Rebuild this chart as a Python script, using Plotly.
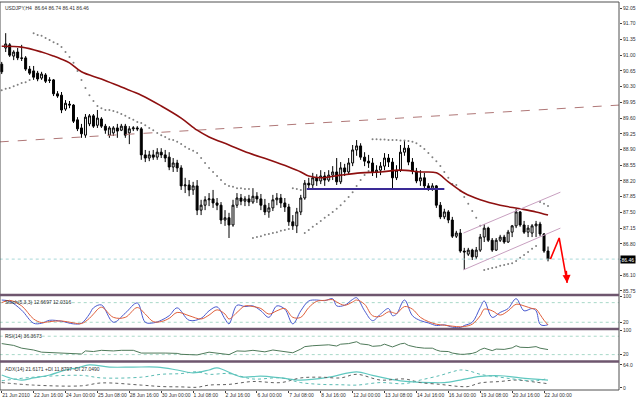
import plotly.graph_objects as go

# ---------------- data ----------------
bar_index = list(range(138))

opens = [90.80, 91.16, 91.23, 90.98, 91.07, 90.94, 90.94, 90.69, 90.65, 90.60,
         90.49, 90.56, 90.45, 90.45, 90.14, 90.11, 89.80, 89.91, 89.89, 89.56,
         89.38, 89.22, 89.47, 89.65, 89.44, 89.58, 89.42, 89.22, 89.27, 89.38,
         89.33, 89.42, 89.27, 89.36, 89.38, 89.36, 88.78, 88.71, 88.78, 88.73,
         88.84, 88.78, 88.73, 88.51, 88.60, 88.49, 88.09, 88.11, 88.00, 88.09,
         87.55, 87.66, 87.78, 87.80, 87.71, 87.66, 87.33, 87.38, 87.22, 87.66,
         87.82, 87.75, 87.80, 87.73, 87.86, 87.80, 87.66, 87.51, 87.60, 87.78,
         87.82, 87.71, 87.62, 87.29, 87.20, 87.51, 87.82, 88.15, 88.11, 88.27,
         88.20, 88.31, 88.22, 88.33, 88.40, 88.18, 88.49, 88.40, 88.60, 88.89,
         88.98, 88.73, 88.64, 88.60, 88.40, 88.44, 88.53, 88.71, 88.62, 88.27,
         88.44, 88.84, 88.93, 88.62, 88.42, 88.20, 88.27, 88.09, 88.02, 88.09,
         87.66, 87.40, 87.51, 87.33, 86.97, 87.04, 86.64, 86.57, 86.66, 86.51,
         86.66, 86.95, 87.15, 86.88, 86.66, 86.88, 86.95, 86.84, 87.06, 87.20,
         87.51, 87.22, 87.06, 87.04, 87.20, 87.24, 87.02, 86.64]
highs = [90.85, 91.49, 91.27, 91.11, 91.16, 91.23, 90.98, 90.76, 90.76, 90.65,
         90.63, 90.60, 90.51, 90.47, 90.20, 90.18, 90.00, 89.98, 89.91, 89.62,
         89.47, 89.69, 89.69, 89.69, 89.78, 89.62, 89.47, 89.42, 89.42, 89.47,
         89.47, 89.47, 89.42, 89.42, 89.42, 89.40, 88.89, 88.87, 88.89, 88.93,
         88.93, 88.89, 88.84, 88.71, 88.67, 88.55, 88.27, 88.22, 88.18, 88.22,
         87.78, 87.86, 87.93, 88.00, 87.82, 87.73, 87.55, 87.49, 87.78, 87.93,
         87.91, 87.86, 87.89, 88.04, 87.95, 87.91, 87.80, 87.71, 87.89, 87.93,
         87.91, 87.82, 87.69, 87.44, 87.60, 87.89, 88.22, 88.27, 88.38, 88.35,
         88.44, 88.40, 88.44, 88.53, 88.71, 88.62, 88.58, 88.71, 89.00, 89.11,
         89.04, 88.84, 88.78, 88.71, 88.55, 88.62, 88.82, 88.80, 88.71, 88.55,
         89.00, 89.09, 89.00, 88.71, 88.49, 88.44, 88.38, 88.15, 88.15, 88.11,
         87.73, 87.58, 87.55, 87.40, 87.09, 87.13, 86.71, 86.71, 86.69, 86.73,
         87.02, 87.24, 87.18, 86.93, 86.93, 87.00, 87.00, 87.11, 87.22, 87.58,
         87.53, 87.31, 87.22, 87.24, 87.31, 87.29, 87.04, 86.74]
lows = [90.58, 91.07, 90.96, 90.89, 90.89, 90.87, 90.65, 90.56, 90.45, 90.42,
        90.45, 90.38, 90.38, 90.09, 90.05, 89.71, 89.76, 89.82, 89.49, 89.31,
        89.16, 89.16, 89.42, 89.38, 89.38, 89.38, 89.25, 89.16, 89.20, 89.16,
        89.31, 89.16, 89.02, 89.31, 89.31, 88.67, 88.62, 88.64, 88.67, 88.67,
        88.71, 88.62, 88.44, 88.40, 88.40, 88.00, 87.93, 87.86, 87.89, 87.44,
        87.44, 87.55, 87.64, 87.60, 87.55, 87.24, 87.20, 86.93, 87.18, 87.60,
        87.66, 87.64, 87.64, 87.69, 87.71, 87.55, 87.44, 87.38, 87.53, 87.66,
        87.60, 87.51, 87.20, 87.11, 87.04, 87.44, 87.78, 88.00, 88.04, 88.09,
        88.13, 88.09, 88.18, 88.22, 88.11, 88.13, 88.31, 88.35, 88.53, 88.76,
        88.67, 88.53, 88.49, 88.31, 88.27, 88.33, 88.44, 88.51, 88.00, 88.22,
        88.40, 88.76, 88.55, 88.35, 88.15, 88.09, 88.04, 87.98, 87.98, 87.60,
        87.35, 87.35, 87.26, 86.93, 86.93, 86.60, 86.22, 86.53, 86.44, 86.46,
        86.62, 86.84, 86.84, 86.62, 86.64, 86.84, 86.80, 86.82, 86.95, 87.15,
        87.18, 87.02, 86.95, 86.95, 86.95, 86.97, 86.60, 86.41]
closes = [90.63, 91.25, 91.00, 91.07, 90.94, 90.93, 90.69, 90.60, 90.51, 90.47,
          90.58, 90.42, 90.44, 90.14, 90.09, 89.78, 89.93, 89.89, 89.53, 89.36,
          89.25, 89.62, 89.65, 89.42, 89.60, 89.42, 89.33, 89.38, 89.38, 89.31,
          89.42, 89.22, 89.36, 89.38, 89.36, 88.78, 88.71, 88.78, 88.73, 88.84,
          88.78, 88.71, 88.51, 88.60, 88.49, 88.09, 88.11, 88.00, 88.09, 87.55,
          87.66, 87.78, 87.80, 87.71, 87.66, 87.33, 87.38, 87.22, 87.66, 87.82,
          87.75, 87.80, 87.73, 87.86, 87.80, 87.66, 87.51, 87.60, 87.78, 87.82,
          87.71, 87.62, 87.29, 87.20, 87.51, 87.82, 88.15, 88.11, 88.27, 88.20,
          88.31, 88.22, 88.33, 88.40, 88.18, 88.49, 88.40, 88.60, 88.89, 88.98,
          88.73, 88.64, 88.60, 88.40, 88.44, 88.53, 88.71, 88.62, 88.27, 88.44,
          88.84, 88.93, 88.62, 88.42, 88.20, 88.27, 88.09, 88.02, 88.09, 87.66,
          87.40, 87.51, 87.33, 86.97, 87.04, 86.64, 86.62, 86.66, 86.51, 86.66,
          86.95, 87.15, 86.88, 86.66, 86.88, 86.95, 86.84, 87.06, 87.20, 87.51,
          87.22, 87.06, 87.15, 87.20, 87.24, 87.02, 86.64, 86.46]

ma_bars = [0, 5, 10, 13, 15, 17, 20, 25, 30, 35, 40, 45, 49, 52, 57, 62, 67, 72,
           75, 77, 80, 85, 90, 95, 100, 105, 109, 112, 116, 120, 125, 130, 134, 137]
ma_values = [91.20, 91.18, 91.07, 90.98, 90.91, 90.83, 90.63, 90.47, 90.29, 90.11,
             89.87, 89.60, 89.33, 89.18, 89.00, 88.82, 88.67, 88.51, 88.40, 88.31,
             88.27, 88.33, 88.38, 88.40, 88.44, 88.40, 88.38, 88.18, 87.93, 87.78,
             87.66, 87.58, 87.51, 87.44]

sar_values = [90.22, 90.25, 90.27, 90.31, 90.34, 90.38, 90.40, 90.45, 91.49, 91.45,
              91.43, 91.38, 91.34, 91.29, 91.25, 91.18, 91.07, 90.96, 90.83, 90.65,
              90.45, 90.27, 90.11, 89.98, 89.87, 89.82, 89.78, 89.78, 89.76, 89.73,
              89.69, 89.65, 89.60, 89.56, 89.51, 89.49, 89.44, 89.38, 89.33, 89.27,
              89.22, 89.18, 89.13, 89.11, 89.07, 89.02, 88.96, 88.91, 88.87, 88.82,
              88.71, 88.60, 88.49, 88.40, 88.31, 88.22, 88.13, 88.09, 88.07, 88.04,
              88.04, 88.02, 88.02, 86.93, 86.95, 86.97, 87.00, 87.02, 87.04, 87.06,
              87.09, 87.11, 87.13, 88.04, 88.02, 88.00, 87.04, 87.11, 87.18, 87.24,
              87.31, 87.38, 87.44, 87.51, 87.58, 87.66, 87.75, 87.84, 87.95, 88.09,
              88.22, 88.33, 88.42, 89.13, 89.13, 89.12, 89.12, 89.11, 89.11, 89.11,
              89.10, 89.10, 89.09, 89.07, 89.04, 88.98, 88.91, 88.82, 88.73, 88.64,
              88.53, 88.40, 88.27, 88.13, 88.11, 87.98, 87.84, 87.69, 87.53, 87.38,
              87.20, 86.22, 86.24, 86.26, 86.28, 86.31, 86.33, 86.35, 86.37, 86.42,
              86.49, 86.55, 86.62, 86.69, 86.75, 87.73, 87.69, 87.64]

current_price = 86.46
price_ticks = [85.75, 86.10, 86.45, 86.80, 87.15, 87.50, 87.85, 88.20, 88.55, 88.90,
               89.25, 89.60, 89.95, 90.30, 90.65, 91.00, 91.35, 91.70, 92.05]
price_tick_labels = ["85.75", "86.10", "86.45", "86.80", "87.15", "87.50", "87.85",
                     "88.20", "88.55", "88.90", "89.25", "89.60", "89.95", "90.30",
                     "90.65", "91.00", "91.35", "91.70", "92.05"]

time_tick_bars = [0, 8, 16, 24, 32, 40, 48, 56, 64, 72, 80, 88, 96, 104, 112, 120, 128, 136]
time_tick_labels = ["21 Jun 2010", "22 Jun 16:00", "24 Jun 00:00", "25 Jun 08:00",
                    "28 Jun 16:00", "30 Jun 00:00", "1 Jul 08:00", "2 Jul 16:00",
                    "6 Jul 00:00", "7 Jul 08:00", "8 Jul 16:00", "12 Jul 00:00",
                    "13 Jul 08:00", "14 Jul 16:00", "16 Jul 00:00", "19 Jul 08:00",
                    "20 Jul 16:00", "22 Jul 00:00"]

stoch_bars = [0, 2, 5, 8, 10, 12, 15, 18, 20, 22, 23, 25, 28, 31, 34, 36, 38, 40, 42, 44,
              47, 50, 52, 54, 56, 57, 59, 61, 63, 65, 67, 69, 71, 73, 75, 77, 79, 81, 83,
              84, 86, 88, 89, 91, 93, 95, 97, 98, 99, 101, 103, 105, 107, 109, 111, 113,
              115, 116, 118, 120, 121, 123, 125, 127, 129, 131, 133, 134, 135, 136, 137]
stoch_main = [88, 84, 57, 17, 17, 26, 23, 15, 17, 45, 64, 73, 20, 48, 79, 20, 18, 26, 40, 64,
              26, 32, 55, 67, 30, 15, 72, 68, 70, 55, 35, 70, 60, 15, 55, 85, 88, 86, 92,
              70, 72, 90, 95, 55, 25, 45, 62, 40, 45, 88, 40, 25, 18, 10, 12, 5,
              4, 10, 20, 65, 85, 35, 50, 62, 92, 55, 62, 55, 14, 10, 12.6697]
stoch_signal = [80, 87, 70, 30, 19, 22, 24, 18, 16, 32, 45, 66, 35, 35, 65, 45, 22, 22, 32, 50,
                40, 30, 42, 58, 45, 30, 50, 70, 68, 62, 45, 55, 62, 35, 35, 65, 84, 87, 89,
                82, 72, 82, 88, 75, 40, 38, 52, 50, 47, 68, 60, 35, 22, 14, 11, 8,
                6, 7, 14, 40, 60, 55, 42, 55, 75, 70, 62, 60, 44, 26, 12.0316]

rsi_bars = [0, 3, 5, 8, 10, 13, 15, 18, 20, 21, 23, 25, 28, 30, 33, 35, 38, 41, 44, 45, 47,
            49, 52, 55, 57, 59, 61, 63, 66, 68, 70, 72, 73, 75, 76, 78, 80, 82, 84, 85,
            87, 88, 89, 90, 92, 93, 95, 96, 98, 100, 101, 102, 104, 106, 108, 109, 110,
            112, 113, 115, 116, 118, 119, 120, 121, 123, 124, 126, 128, 129, 130, 132,
            134, 135, 136, 137]
rsi_values = [56, 50, 41, 35, 28, 26, 25, 23, 22, 32, 30, 34, 32, 34, 34, 25, 26, 25, 24, 21, 20,
              19, 28, 22, 20, 32, 31, 34, 29, 35, 32, 27, 26, 38, 46, 49, 51, 52, 48, 54,
              56, 60, 62, 55, 52, 47, 49, 54, 45, 55, 57, 50, 44, 41, 41, 35, 31,
              30, 25, 21, 21, 24, 28, 36, 41, 33, 38, 37, 42, 49, 44, 43,
              46, 41, 39, 36.3673]

adx_bars = [0, 2, 5, 8, 12, 16, 19, 22, 27, 33, 39, 44, 48, 52, 54, 60, 65, 70, 75, 82,
            89, 93, 100, 108, 111, 115, 120, 125, 130, 137]
adx_main = [36, 28, 22, 28, 36, 50, 56, 64, 58, 58, 58, 50, 42, 50, 56, 31, 33, 28, 22, 30,
            45, 35, 20, 15, 15, 22, 32, 34, 28, 21.6171]
di_bars = [0, 8, 20, 25, 35, 40, 45, 49, 52, 57, 63, 70, 75, 80, 85, 89, 95, 101, 105, 110,
           113, 115, 117, 120, 125, 129, 134, 137]
plus_di = [15, 8, 6, 14, 8, 4, 3, 2, 8, 10, 18, 15, 28, 30, 28, 38, 22, 25, 15, 10,
           6, 4, 4, 14, 18, 22, 16, 11.8797]
minus_di = [20, 30, 35, 28, 30, 38, 40, 45, 38, 40, 25, 28, 15, 10, 9, 8, 15, 12, 22, 35,
            45, 50, 48, 38, 30, 24, 20, 27.0490]

trend_x = [-0.5, 155]
trend_y = [89.07, 89.89]
support_x = [76.5, 111]
support_y = [88.02, 88.02]
channel_upper_x = [115.8, 140.1]
channel_upper_y = [87.04, 87.95]
channel_lower_x = [115.8, 140.1]
channel_lower_y = [86.22, 87.15]
arrow_x = [137.6, 139.8, 141.8]
arrow_y = [86.46, 86.93, 85.93]

# ---------------- figure ----------------
FONT = "Liberation Sans, Arial, sans-serif"
TXT = "#303030"

fig = go.Figure()

fig.add_trace(go.Scatter(x=trend_x, y=trend_y, mode="lines",
                         line=dict(color="#b07878", width=1, dash="dash"),
                         hoverinfo="skip", showlegend=False))
fig.add_trace(go.Scatter(x=[-0.5, 155], y=[current_price, current_price], mode="lines",
                         line=dict(color="#a8d8d8", width=1, dash="dot"),
                         hoverinfo="skip", showlegend=False))
fig.add_trace(go.Scatter(x=bar_index, y=sar_values, mode="markers",
                         marker=dict(size=2, color="#808080"),
                         hoverinfo="skip", showlegend=False))
fig.add_trace(go.Candlestick(x=bar_index, open=opens, high=highs, low=lows, close=closes,
                             increasing=dict(line=dict(color="#000000", width=1), fillcolor="#ffffff"),
                             decreasing=dict(line=dict(color="#000000", width=1), fillcolor="#000000"),
                             whiskerwidth=0, showlegend=False, hoverinfo="skip"))
fig.add_trace(go.Scatter(x=ma_bars, y=ma_values, mode="lines",
                         line=dict(color="#8e1010", width=1.6, shape="spline"),
                         hoverinfo="skip", showlegend=False))
fig.add_trace(go.Scatter(x=support_x, y=support_y, mode="lines",
                         line=dict(color="#3a2a96", width=2),
                         hoverinfo="skip", showlegend=False))
for cx, cy in ((channel_upper_x, channel_upper_y), (channel_lower_x, channel_lower_y)):
    fig.add_trace(go.Scatter(x=cx, y=cy, mode="lines",
                             line=dict(color="#c8a0c0", width=1),
                             hoverinfo="skip", showlegend=False))
fig.add_trace(go.Scatter(x=arrow_x, y=arrow_y, mode="lines",
                         line=dict(color="#ff0000", width=1.6),
                         hoverinfo="skip", showlegend=False))

# Stochastic
for lvl in (80, 20):
    fig.add_trace(go.Scatter(x=[-0.5, 155], y=[lvl, lvl], mode="lines", xaxis="x2", yaxis="y2",
                             line=dict(color="#a8d8c8", width=1, dash="dot"),
                             hoverinfo="skip", showlegend=False))
fig.add_trace(go.Scatter(x=stoch_bars, y=stoch_main, mode="lines", xaxis="x2", yaxis="y2",
                         line=dict(color="#4a5ad0", width=1, shape="spline"),
                         hoverinfo="skip", showlegend=False))
fig.add_trace(go.Scatter(x=stoch_bars, y=stoch_signal, mode="lines", xaxis="x2", yaxis="y2",
                         line=dict(color="#e0603c", width=1, shape="spline"),
                         hoverinfo="skip", showlegend=False))

# RSI
for lvl in (80, 20):
    fig.add_trace(go.Scatter(x=[-0.5, 155], y=[lvl, lvl], mode="lines", xaxis="x3", yaxis="y3",
                             line=dict(color="#a8d8c8", width=1, dash="dot"),
                             hoverinfo="skip", showlegend=False))
fig.add_trace(go.Scatter(x=rsi_bars, y=rsi_values, mode="lines", xaxis="x3", yaxis="y3",
                         line=dict(color="#4f7a5a", width=1),
                         hoverinfo="skip", showlegend=False))

# ADX
fig.add_trace(go.Scatter(x=adx_bars, y=adx_main, mode="lines", xaxis="x4", yaxis="y4",
                         line=dict(color="#60c8c0", width=1.2, shape="spline"),
                         hoverinfo="skip", showlegend=False))
fig.add_trace(go.Scatter(x=di_bars, y=plus_di, mode="lines", xaxis="x4", yaxis="y4",
                         line=dict(color="#606060", width=1, dash="dot", shape="spline"),
                         hoverinfo="skip", showlegend=False))
fig.add_trace(go.Scatter(x=di_bars, y=minus_di, mode="lines", xaxis="x4", yaxis="y4",
                         line=dict(color="#5cbcb4", width=1, dash="dot", shape="spline"),
                         hoverinfo="skip", showlegend=False))

XR = [-0.43, 154.8]
tickfont = dict(family=FONT, size=5, color=TXT)

def f(ypx):
    return (390 - ypx) / 388.0

common_y = dict(side="right", tickmode="array", ticks="outside", ticklen=2,
                tickcolor="#404040", tickfont=tickfont, showgrid=False, zeroline=False,
                automargin=False, tickangle=0)
common_x = dict(domain=[0, 1], showgrid=False, zeroline=False, automargin=False)

fig.update_layout(
    width=637, height=399,
    margin=dict(l=0, r=18, t=2, b=9),
    paper_bgcolor="#ffffff", plot_bgcolor="#ffffff",
    showlegend=False,
    xaxis=dict(anchor="y", range=XR, showticklabels=False, ticks="",
               rangeslider=dict(visible=False), **common_x),
    xaxis2=dict(anchor="y2", matches="x", showticklabels=False, ticks="", **common_x),
    xaxis3=dict(anchor="y3", matches="x", showticklabels=False, ticks="", **common_x),
    xaxis4=dict(anchor="y4", matches="x",
                tickmode="array", tickvals=time_tick_bars, ticktext=time_tick_labels,
                ticks="outside", ticklen=2, tickcolor="#404040", tickwidth=1, tickangle=0,
                ticklabelposition="outside right", tickfont=dict(family=FONT, size=5, color=TXT),
                **common_x),
    yaxis=dict(domain=[f(294), 1], anchor="x", range=[85.683, 92.184],
               tickvals=price_ticks, ticktext=price_tick_labels, **common_y),
    yaxis2=dict(domain=[f(328), f(296)], anchor="x2", range=[2.4, 100.3],
                tickvals=[100, 20], ticktext=["100", "20"], **common_y),
    yaxis3=dict(domain=[f(360), f(330)], anchor="x3", range=[2.4, 100.3],
                tickvals=[100, 20], ticktext=["100", "20"], **common_y),
    yaxis4=dict(domain=[0, f(363)], anchor="x4", range=[-5.6, 69.4],
                tickvals=[64, 0], ticktext=["64.0", "0"], **common_y),
)

shapes = [dict(type="rect", xref="paper", yref="paper", x0=0, x1=1, y0=0, y1=1,
               line=dict(color="#505050", width=1))]
for ypx in (295, 329, 361.5):
    shapes.append(dict(type="line", xref="paper", yref="paper", x0=0, x1=1,
                       y0=f(ypx), y1=f(ypx), line=dict(color="#6e566e", width=2.5)))
fig.update_layout(shapes=shapes)

ann = [
    dict(xref="paper", yref="paper", x=0, y=1, xanchor="left", yanchor="top", xshift=3, yshift=-1,
         text="USDJPY,H4  86.64 86.74 86.41 86.46", showarrow=False,
         font=dict(family=FONT, size=5, color=TXT)),
    dict(xref="paper", yref="paper", x=0, y=f(296), xanchor="left", yanchor="top", xshift=3, yshift=-1,
         text="Stoch(5,3,3) 12.6697 12.0316", showarrow=False,
         font=dict(family=FONT, size=5, color=TXT)),
    dict(xref="paper", yref="paper", x=0, y=f(330), xanchor="left", yanchor="top", xshift=3, yshift=-1,
         text="RSI(14) 36.3673", showarrow=False,
         font=dict(family=FONT, size=5, color=TXT)),
    dict(xref="paper", yref="paper", x=0, y=f(363), xanchor="left", yanchor="top", xshift=3, yshift=-1,
         text="ADX(14) 21.6171 +DI 11.8797 -DI 27.0490", showarrow=False,
         font=dict(family=FONT, size=5, color=TXT)),
    dict(xref="paper", yref="y", x=1, y=current_price, xanchor="left", yanchor="middle", xshift=1,
         text="86.46", showarrow=False, bgcolor="#000000", borderpad=0.5,
         font=dict(family=FONT, size=5, color="#ffffff")),
    dict(xref="x", yref="y", x=arrow_x[2], y=arrow_y[2], axref="x", ayref="y",
         ax=arrow_x[2] - 0.25, ay=arrow_y[2] + 0.3, showarrow=True, arrowhead=2,
         arrowsize=1, arrowwidth=1.6, arrowcolor="#ff0000", text=""),
]
fig.update_layout(annotations=ann)

fig.write_html("out.html",
               config={"displayModeBar": False, "staticPlot": True},
               post_script="document.body.style.margin='0';document.body.style.padding='0';"
                           "document.documentElement.style.overflow='hidden';")
